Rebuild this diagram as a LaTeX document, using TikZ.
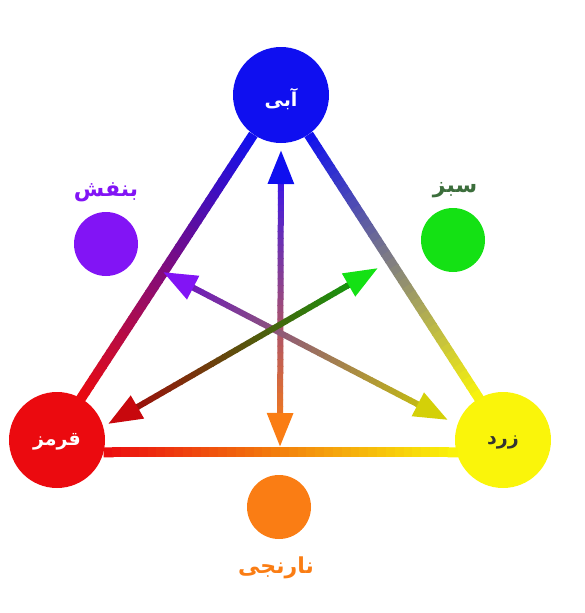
\documentclass[tikz,border=0pt]{standalone}
\usepackage{fontspec}
\newfontfamily\arabicfont[Script=Arabic]{DejaVu Sans}
\TeXXeTstate=1
\usetikzlibrary{arrows.meta,calc}
\definecolor{cB}{RGB}{15,15,240}
\definecolor{cR}{RGB}{235,10,15}
\definecolor{cY}{RGB}{250,245,10}
\definecolor{cG}{RGB}{20,225,20}
\definecolor{cV}{RGB}{130,20,245}
\definecolor{cO}{RGB}{250,125,20}
\definecolor{cGt}{RGB}{60,110,60}
\newcommand\gradseg[5]{%
  \foreach \i in {0,...,39}{%
    \pgfmathsetmacro\fa{\i/40}%
    \pgfmathsetmacro\fb{(\i+1.15)/40}%
    \pgfmathsetmacro\pc{100-(\i+0.5)*2.5}%
    \draw[line width=#5, color=#3!\pc!#4] ($(#1)!\fa!(#2)$) -- ($(#1)!\fb!(#2)$);
  }%
}
\tikzset{
  bigdot/.style={circle, minimum size=96pt, inner sep=0pt},
  smalldot/.style={circle, minimum size=64pt, inner sep=0pt},
  lbl/.style={font=\arabicfont\bfseries\fontsize{22}{24}\selectfont, inner sep=1pt},
  inlbl/.style={font=\arabicfont\bfseries\fontsize{19}{21}\selectfont, inner sep=1pt},
  tipstyle/.style={-{Triangle[length=34pt,width=25pt]}, line width=6pt}
}
\begin{document}
\begin{tikzpicture}[x=1pt,y=-1pt]
\useasboundingbox (0,0) rectangle (584,613);
% main colour nodes
\node[bigdot, fill=cB] (B) at (281,95) {};
\node[bigdot, fill=cR] (R) at (57,440) {};
\node[bigdot, fill=cY] (Y) at (503,440) {};
\node[smalldot, fill=cV] (V) at (106,244) {};
\node[smalldot, fill=cG] (G) at (453,240) {};
\node[smalldot, fill=cO] (O) at (279,507) {};
% triangle edges
\coordinate (e1) at (B.-125);
\coordinate (e2) at (R.60);
\coordinate (e3) at (B.-55);
\coordinate (e4) at (Y.120);
\coordinate (e5) at (R.-15);
\coordinate (e6) at (Y.195);
\gradseg{e1}{e2}{cB}{cR}{10pt}
\gradseg{e3}{e4}{cB}{cY}{10pt}
\gradseg{e5}{e6}{cR}{cY}{10pt}
% arrow tips
\coordinate (C) at (280,322);
\coordinate (tB) at (281,150);
\coordinate (tO) at (280,447);
\coordinate (tV) at (163,272);
\coordinate (tY) at (448,420);
\coordinate (tG) at (378,268);
\coordinate (tR) at (108,424);
\coordinate (sB) at ($(tB)!14pt!(tO)$);
\coordinate (sO) at ($(tO)!14pt!(tB)$);
\coordinate (sV) at ($(tV)!14pt!(tY)$);
\coordinate (sY) at ($(tY)!14pt!(tV)$);
\coordinate (sG) at ($(tG)!14pt!(tR)$);
\coordinate (sR) at ($(tR)!14pt!(tG)$);
\gradseg{sB}{sO}{cB!70!cV}{cO}{6pt}
\gradseg{sV}{sY}{cV}{cY!80!black}{6pt}
\gradseg{sG}{sR}{cG}{cR!70!black}{6pt}
\draw[tipstyle, cB] ($(tB)!30pt!(tO)$) -- (tB);
\draw[tipstyle, cO] ($(tO)!30pt!(tB)$) -- (tO);
\draw[tipstyle, cV] ($(tV)!30pt!(tY)$) -- (tV);
\draw[tipstyle, cY!85!black] ($(tY)!30pt!(tV)$) -- (tY);
\draw[tipstyle, cG] ($(tG)!30pt!(tR)$) -- (tG);
\draw[tipstyle, cR!85!black] ($(tR)!30pt!(tG)$) -- (tR);
% labels
\node[inlbl, text=white] (tBl) at ($(B)+(0,4)$) {\beginR آبی\endR};
\node[inlbl, text=white] (tRl) at ($(R)+(0,2)$) {\beginR قرمز\endR};
\node[inlbl, text=black!80] (tYl) at ($(Y)+(0,2)$) {\beginR زرد\endR};
\node[lbl, text=cV] (tVl) at (106,192) {\beginR بنفش\endR};
\node[lbl, text=cGt] (tGl) at (455,190) {\beginR سبز\endR};
\node[lbl, text=cO] (tOl) at (276,568) {\beginR نارنجی\endR};
\end{tikzpicture}
\end{document}
